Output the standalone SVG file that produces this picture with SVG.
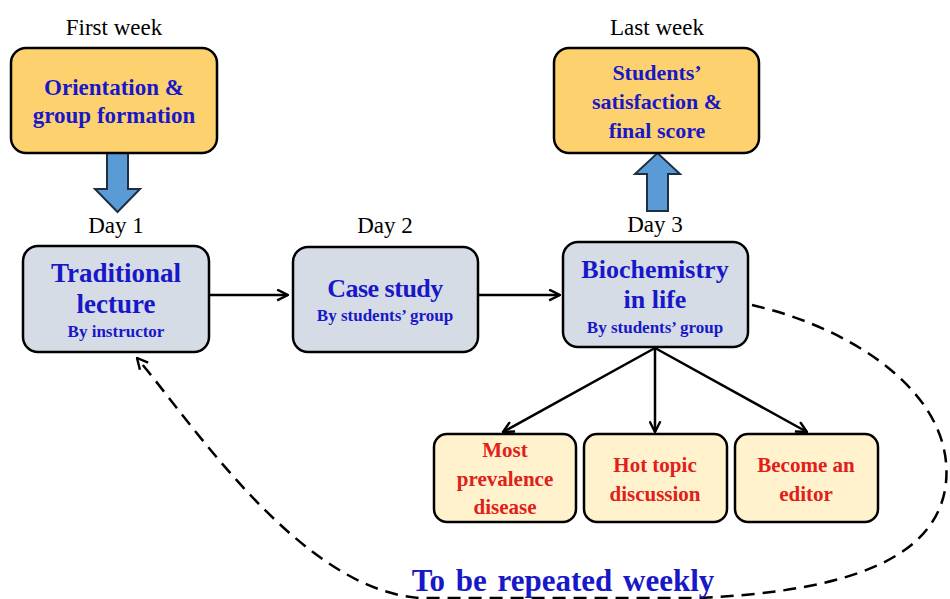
<svg xmlns="http://www.w3.org/2000/svg" width="950" height="599" viewBox="0 0 950 599">
<style>
.lbl{font-family:"Liberation Serif",serif;font-size:23px;fill:#000;text-anchor:middle}
.t{font-family:"Liberation Serif",serif;font-weight:bold;text-anchor:middle}
.blue{fill:#1818C8}
.red{fill:#E0201A}
.yel{fill:#FDD26E;stroke:#000;stroke-width:2.5}
.gry{fill:#D6DCE5;stroke:#000;stroke-width:2.5}
.lyl{fill:#FFF2CC;stroke:#000;stroke-width:2.5}
.big{fill:#5B9BD5;stroke:#1E2F44;stroke-width:2}
.conn{fill:none;stroke:#000;stroke-width:2.5}
</style>
<defs>
<marker id="ah" viewBox="0 0 12 12" refX="11" refY="6" markerWidth="13" markerHeight="13" markerUnits="userSpaceOnUse" orient="auto">
<path d="M1,1 L11,6 L1,11" fill="none" stroke="#000" stroke-width="2.2"/>
</marker>
</defs>
<rect width="950" height="599" fill="#fff"/>

<g id="connectors">
<line class="conn" x1="209" y1="295" x2="288" y2="295" marker-end="url(#ah)"/>
<line class="conn" x1="478" y1="295" x2="560" y2="295" marker-end="url(#ah)"/>
<line class="conn" x1="655" y1="348" x2="503" y2="432" marker-end="url(#ah)"/>
<line class="conn" x1="655" y1="348" x2="655" y2="432" marker-end="url(#ah)"/>
<line class="conn" x1="655" y1="348" x2="807" y2="432" marker-end="url(#ah)"/>
<path class="conn" stroke-width="2.7" stroke-dasharray="13 8" d="M752,305 C860,330 960,400 945,490 C930,570 820,592 700,598 L420,598 C300,590 190,420 137,358" marker-end="url(#ah)"/>
<polygon id="arrow-down" class="big" points="107,153 128,153 128,189 140,189 117.5,212 95,189 107,189"/>
<polygon id="arrow-up" class="big" points="647,211 668,211 668,174 680,174 657.5,153 635,174 647,174"/>
</g>

<g id="first-week">
<text class="lbl" x="114" y="35">First week</text>
</g>
<g id="orientation">
<rect class="yel" x="11" y="48" width="206" height="105" rx="15"/>
<text class="t blue" font-size="23" x="114" y="95">Orientation &amp;</text>
<text class="t blue" font-size="23" x="114" y="123">group formation</text>
</g>

<g id="last-week">
<text class="lbl" x="657" y="35">Last week</text>
</g>
<g id="satisfaction">
<rect class="yel" x="554" y="48" width="205" height="105" rx="15"/>
<text class="t blue" font-size="22" x="657" y="80">Students’</text>
<text class="t blue" font-size="22" x="657" y="109">satisfaction &amp;</text>
<text class="t blue" font-size="22" x="657" y="138">final score</text>
</g>

<g id="day1">
<text class="lbl" x="116" y="233">Day 1</text>
<rect class="gry" x="23" y="246" width="186" height="106" rx="15"/>
<text class="t blue" font-size="27" x="116" y="282">Traditional</text>
<text class="t blue" font-size="27" x="116" y="313">lecture</text>
<text class="t blue" font-size="17" x="116" y="337">By instructor</text>
</g>

<g id="day2">
<text class="lbl" x="385" y="233">Day 2</text>
<rect class="gry" x="293" y="247" width="185" height="105" rx="15"/>
<text class="t blue" font-size="26" x="385" y="297" letter-spacing="-0.5">Case study</text>
<text class="t blue" font-size="17" x="385" y="321">By students’ group</text>
</g>

<g id="day3">
<text class="lbl" x="655" y="232">Day 3</text>
<rect class="gry" x="563" y="242" width="185" height="105" rx="15"/>
<text class="t blue" font-size="26" x="655" y="278">Biochemistry</text>
<text class="t blue" font-size="26" x="655" y="308">in life</text>
<text class="t blue" font-size="17" x="655" y="333">By students’ group</text>
</g>

<g id="prevalence">
<rect class="lyl" x="434" y="434" width="142" height="88" rx="13"/>
<text class="t red" font-size="21" x="505" y="457">Most</text>
<text class="t red" font-size="21" x="505" y="486">prevalence</text>
<text class="t red" font-size="21" x="505" y="514">disease</text>
</g>
<g id="hot-topic">
<rect class="lyl" x="584" y="434" width="143" height="88" rx="13"/>
<text class="t red" font-size="21" x="655" y="472">Hot topic</text>
<text class="t red" font-size="21" x="655" y="501">discussion</text>
</g>
<g id="editor">
<rect class="lyl" x="735" y="434" width="143" height="88" rx="13"/>
<text class="t red" font-size="21" x="806" y="472">Become an</text>
<text class="t red" font-size="21" x="806" y="501">editor</text>
</g>

<g id="repeat-label">
<text class="t blue" font-size="31" x="563" y="591" word-spacing="3">To be repeated weekly</text>
</g>
</svg>
